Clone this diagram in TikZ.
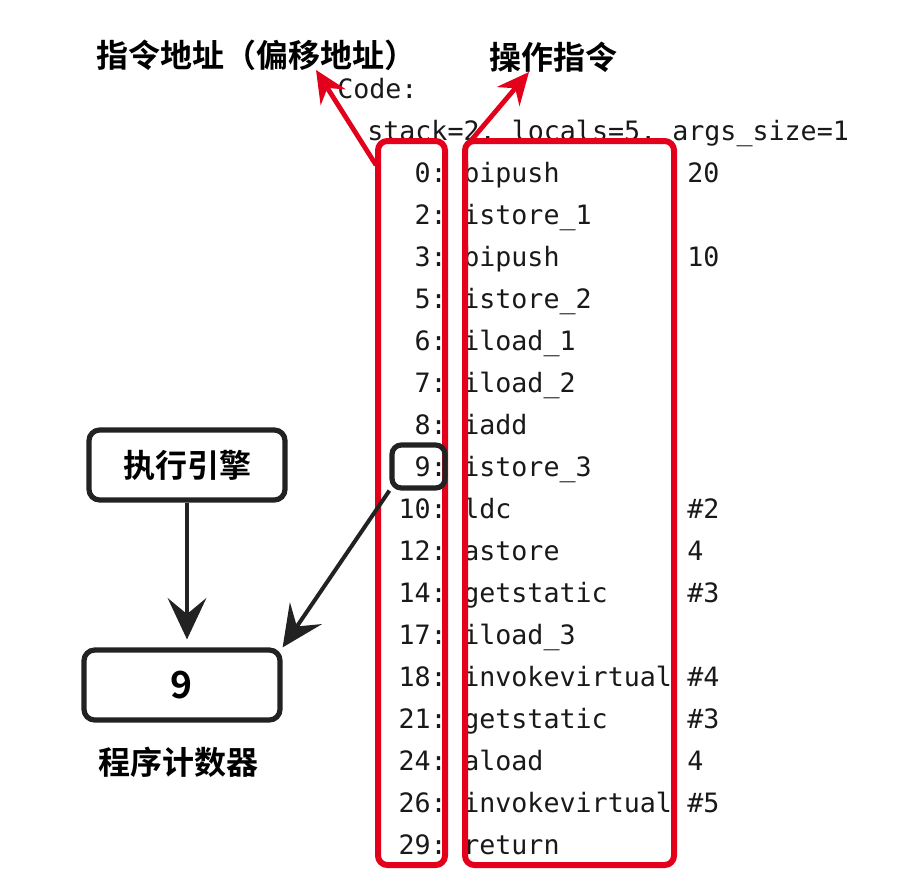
\documentclass[tikz,border=0pt]{standalone}
\usepackage{fontspec}
\usetikzlibrary{arrows.meta}
\newfontfamily\cjkfont{Noto Sans CJK SC}[UprightFont=* Bold]
\newfontfamily\codefont{DejaVu Sans Mono}
\definecolor{markred}{HTML}{E3001B}
\definecolor{ink}{HTML}{222222}
\begin{document}
\begin{tikzpicture}[x=0.75pt,y=-0.75pt,
    label/.style={font=\cjkfont\fontsize{24}{28}\selectfont,text=black,inner sep=0pt},
    code/.style={font=\codefont\fontsize{20}{24}\selectfont,text=black!90,inner sep=0pt},
    redbox/.style={rectangle,draw=markred,line width=4.5pt,rounded corners=7pt},
    blackbox/.style={rectangle,draw=ink,line width=3.9pt,rounded corners=8pt,
        minimum width=147pt,minimum height=52.5pt},
    redarrow/.style={-{Stealth[length=24pt,width=22pt,inset=8pt]},draw=markred,line width=3.6pt},
    blackarrow/.style={-{Stealth[length=31pt,width=29pt,inset=12pt]},draw=ink,line width=3pt}
]
\useasboundingbox (0,0) rectangle (912,886);

\node[label,anchor=west] (addrtitle) at (96,55) {指令地址（偏移地址）};
\node[label] (optitle) at (553,57) {操作指令};

\node[code,anchor=base west] (codehead) at (337,98) {Code:};
\node[code,anchor=base west] (stackline) at (367,140) {stack=2, locals=5, args\_size=1};

\foreach \addr/\op/\arg [count=\i from 0] in {0/bipush/20, 2/istore\_1/, 3/bipush/10,
    5/istore\_2/, 6/iload\_1/, 7/iload\_2/, 8/iadd/, 9/istore\_3/, 10/ldc/\#2,
    12/astore/4, 14/getstatic/\#3, 17/iload\_3/, 18/invokevirtual/\#4,
    21/getstatic/\#3, 24/aload/4, 26/invokevirtual/\#5, 29/return/} {
  \node[code,anchor=base east] (A\i) at (447,182+42*\i) {\addr:};
  \node[code,anchor=base west] (O\i) at (463,182+42*\i) {\op};
  \node[code,anchor=base west] (G\i) at (687,182+42*\i) {\arg};
}

\node[redbox,minimum width=50.25pt,minimum height=543pt] (addrbox) at (411.5,503) {};
\node[redbox,minimum width=156.75pt,minimum height=543pt] (opbox) at (569.5,503) {};

\coordinate (addrtip) at (316,70);
\coordinate (optip) at (529,72);
\coordinate (addrfoot) at (376,165);
\coordinate (opfoot) at (468,144);
\draw[redarrow] (addrfoot) -- (addrtip);
\draw[redarrow] (opfoot) -- (optip);

\node[blackbox] (engine) at (187,465) {};
\node[label] at (engine) {执行引擎};
\node[blackbox] (pc) at (182,685) {};
\node[label,font=\cjkfont\fontsize{28}{32}\selectfont] at (pc) {9};
\node[label] (pcname) at (178,762) {程序计数器};

\node[rectangle,draw=ink,line width=3.9pt,rounded corners=7pt,
    minimum width=39.75pt,minimum height=32.25pt] (cur) at (418.5,466.5) {};

\draw[blackarrow,shorten >=6pt] (engine) -- (engine|-pc.north);
\draw[blackarrow] (cur.south west) -- (pc.north east);

\end{tikzpicture}
\end{document}
